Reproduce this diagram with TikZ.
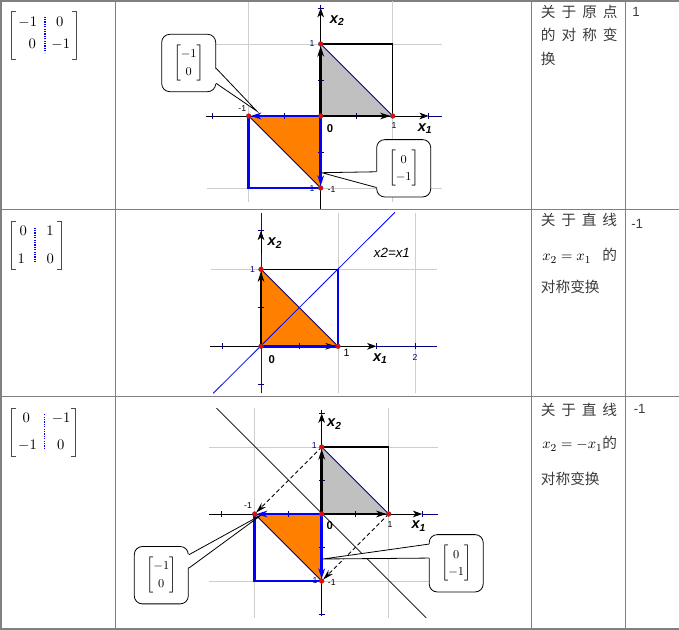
\documentclass[tikz,border=0pt]{standalone}
\usepackage{amsmath}
\usepackage{fontspec}
\setsansfont{Liberation Sans}
\newfontfamily\cjk{Noto Sans CJK SC}
\usetikzlibrary{arrows.meta,calc}
\definecolor{geoorange}{RGB}{255,128,0}
\definecolor{geogray}{RGB}{192,192,192}
\definecolor{gridgray}{RGB}{206,206,206}
\definecolor{axnavy}{RGB}{0,0,128}
\definecolor{tabgray}{RGB}{128,128,128}
\definecolor{txtgray}{RGB}{60,60,60}
\tikzstyle{tabline} = [draw=tabgray, line width=1.1pt]
\tikzstyle{gridln} = [draw=gridgray, line width=0.7pt]
\tikzstyle{axisln} = [draw=black, line width=0.7pt, -{Stealth[length=7pt,width=5pt,inset=2pt]}]
\tikzstyle{axisend} = [draw=axnavy, line width=0.7pt]
\tikzstyle{tickln} = [draw=axnavy, line width=0.6pt]
\tikzstyle{vecblack} = [draw=black, line width=2pt, -{Stealth[length=8pt,width=5pt]}, shorten >=1.5pt]
\tikzstyle{vecblue} = [draw=blue, line width=2pt, -{Stealth[length=8pt,width=5pt]}, shorten >=1.5pt]
\tikzstyle{edgeblue} = [draw=blue, line width=2pt]
\tikzstyle{edgeblack} = [draw=black, line width=0.9pt]
\tikzstyle{hypot} = [draw=axnavy, line width=0.6pt]
\tikzstyle{mirror} = [line width=0.6pt]
\tikzstyle{imgarrow} = [draw=black, line width=0.6pt, dash pattern=on 3pt off 2pt, -{Stealth[length=8pt,width=4.5pt]}, shorten >=1.5pt]
\tikzstyle{reddot} = [circle, fill=red, draw=black!70, line width=0.3pt, inner sep=0pt, minimum size=3.6pt]
\tikzstyle{ticklab} = [font=\fontsize{6.5}{7}\sffamily, inner sep=0pt]
\tikzstyle{axlab} = [font=\fontsize{11}{13}\sffamily\bfseries\itshape, inner sep=0pt]
\tikzstyle{zerolab} = [font=\fontsize{8.5}{10}\sffamily\bfseries, inner sep=0pt]
\tikzstyle{linelab} = [font=\fontsize{10}{12}\sffamily\itshape, inner sep=0pt]
\tikzstyle{callbox} = [rectangle, rounded corners=6pt, draw=black, line width=0.6pt, fill=white, minimum width=40.5pt, minimum height=43pt, inner sep=0pt, font=\small]
\tikzstyle{pointer} = [draw=black, line width=0.6pt]
\tikzstyle{matent} = [font=\fontsize{11}{13}\selectfont, inner sep=0pt, anchor=base]
\tikzstyle{matbrk} = [draw=black!70, line width=0.7pt]
\tikzstyle{sepdot} = [draw=blue, line width=1.2pt, dash pattern=on 0.9pt off 0.9pt]
\tikzstyle{cntext} = [font=\fontsize{11}{13}\cjk, text=txtgray, inner sep=0pt, anchor=base west]
\tikzstyle{valtext} = [font=\fontsize{10}{12}\sffamily, text=txtgray, inner sep=0pt, anchor=base west]

\begin{document}
\begin{tikzpicture}[x=0.75pt, y=-0.75pt]
\useasboundingbox (0,0) rectangle (679,630);

% table rules
\draw[tabline] (0,0.8) -- (679,0.8);
\draw[tabline] (0,209.5) -- (679,209.5);
\draw[tabline] (0,396.5) -- (679,396.5);
\draw[tabline] (0,628.8) -- (679,628.8);
\draw[tabline] (1,0) -- (1,630);
\draw[tabline] (115.7,0) -- (115.7,630);
\draw[tabline] (531.7,0) -- (531.7,630);
\draw[tabline] (625.5,0) -- (625.5,630);

% column 1: the matrices
\draw[matbrk] (16.2,11.7) -- (11.7,11.7) -- (11.7,59.3) -- (16.2,59.3);
\draw[matbrk] (71.5,11.7) -- (76,11.7) -- (76,59.3) -- (71.5,59.3);
\draw[sepdot] (45,16.7) -- (45,52.7);
\node[matent] (m1a) at (27.8,26.7) {$-1$};
\node[matent] (m1b) at (59.7,26.7) {$0$};
\node[matent] (m1c) at (32.2,48.3) {$0$};
\node[matent] (m1d) at (60.8,48.3) {$-1$};

\draw[matbrk] (16.2,221.7) -- (11.7,221.7) -- (11.7,269) -- (16.2,269);
\draw[matbrk] (57.2,221.7) -- (61.7,221.7) -- (61.7,269) -- (57.2,269);
\draw[sepdot] (35,227.7) -- (35,262.3);
\node[matent] (m2a) at (23.3,235.7) {$0$};
\node[matent] (m2b) at (50,235.7) {$1$};
\node[matent] (m2c) at (21.2,263.3) {$1$};
\node[matent] (m2d) at (50.3,263.3) {$0$};

\draw[matbrk] (16.2,408.3) -- (11.7,408.3) -- (11.7,456) -- (16.2,456);
\draw[matbrk] (71.2,408.3) -- (75.7,408.3) -- (75.7,456) -- (71.2,456);
\draw[sepdot] (44.3,414.3) -- (44.3,448.3);
\node[matent] (m3a) at (26.2,422.3) {$0$};
\node[matent] (m3b) at (61.2,422.3) {$-1$};
\node[matent] (m3c) at (27.5,450) {$-1$};
\node[matent] (m3d) at (60.8,450) {$0$};

% row 1: reflection in the origin
\begin{scope}[shift={(320.7,116)}, x=54pt, y=54pt]
  \coordinate (a0) at (0,0);
  \coordinate (ax) at (1,0);
  \coordinate (ay) at (0,1);
  \coordinate (axy) at (1,1);
  \coordinate (amx) at (-1,0);
  \coordinate (amy) at (0,-1);
  \coordinate (amxy) at (-1,-1);
  \draw[gridln] (-1,-1.2) -- (-1,1.58);
  \draw[gridln] (1,-1.2) -- (1,1.6);
  \draw[gridln] (-1.58,1) -- (1.68,1);
  \draw[gridln] (-1.58,-1) -- (1.68,-1);
  \fill[geogray] (a0) -- (ax) -- (ay) -- cycle;
  \fill[geoorange] (a0) -- (amx) -- (amy) -- cycle;
  \draw[axisln] (-1.6,0) -- (1.5,0);
  \draw[axisend] (1.5,0) -- (1.68,0);
  \draw[axisln] (0,-1.29) -- (0,1.5);
  \draw[axisend] (0,1.5) -- (0,1.54);
  \foreach \t in {-1.5,-0.5,0.5,1.5}
    \draw[tickln] (\t,0) ++(0pt,-2.2pt) -- ++(0pt,4.4pt);
  \foreach \t in {-0.5,0.5,1.5}
    \draw[tickln] (0,\t) ++(-2.2pt,0pt) -- ++(4.4pt,0pt);
  \draw[edgeblack] (ay) -- (axy) -- (ax);
  \draw[hypot] (ax) -- (ay);
  \draw[hypot] (amx) -- (amy);
  \node[ticklab, text=axnavy] (a1l) at (-0.12,-1.01) {1};
  \draw[edgeblue] (amx) -- (amxy) -- (amy);
  \draw[vecblack] (a0) -- (ax);
  \draw[vecblack] (a0) -- (ay);
  \draw[vecblue] (a0) -- (amx);
  \draw[vecblue] (a0) -- (amy);
  \foreach \p/\n in {a0/ad0,ax/adx,ay/ady,amx/admx,amy/admy}
    \node[reddot] (\n) at (\p) {};
  \node[axlab] (ax2) at (0.23,1.33) {x\textsubscript{2}};
  \node[axlab] (ax1) at (1.45,-0.18) {x\textsubscript{1}};
  \node[zerolab] (azero) at (0.13,-0.17) {0};
  \node[ticklab, text=axnavy] (ay1) at (-0.12,1.01) {1};
  \node[ticklab] (amx1) at (-1.09,0.11) {-1};
  \node[ticklab] (ax1l) at (1.02,-0.13) {1};
  \node[ticklab] (amy1) at (0.15,-1.02) {-1};
\end{scope}

\node[callbox] (cbA) at (188.7,63) {\renewcommand{\arraystretch}{1.2}$\begin{bmatrix}-1\\0\end{bmatrix}$};
\coordinate (tipA) at (256.7,111);
\fill[white] ($(cbA.north east)!0.59!(cbA.south east)+(-1.5,0)$) -- (tipA) -- ($(cbA.north east)!0.85!(cbA.south east)+(-1.5,0)$) -- cycle;
\draw[pointer] ($(cbA.north east)!0.59!(cbA.south east)$) -- (tipA) -- ($(cbA.north east)!0.85!(cbA.south east)$);

\node[callbox] (cbB) at (403.7,168.3) {\renewcommand{\arraystretch}{1.2}$\begin{bmatrix}0\\-1\end{bmatrix}$};
\coordinate (tipB) at (321.7,172.7);
\fill[white] ($(cbB.north west)!0.56!(cbB.south west)+(1.5,0)$) -- (tipB) -- ($(cbB.north west)!0.83!(cbB.south west)+(1.5,0)$) -- cycle;
\draw[pointer] ($(cbB.north west)!0.56!(cbB.south west)$) -- (tipB) -- ($(cbB.north west)!0.83!(cbB.south west)$);

% row 2: reflection in x2 = x1
\begin{scope}[shift={(261,346.3)}, x=57.75pt, y=57.75pt]
  \coordinate (b0) at (0,0);
  \coordinate (bx) at (1,0);
  \coordinate (by) at (0,1);
  \coordinate (bxy) at (1,1);
  \draw[gridln] (-0.65,1) -- (2.28,1);
  \draw[gridln] (1,-0.61) -- (1,1.73);
  \draw[gridln] (2,-0.61) -- (2,1.73);
  \fill[geoorange] (b0) -- (bx) -- (by) -- cycle;
  \draw[mirror, blue] (-0.62,-0.61) -- (1.74,1.74);
  \draw[axisln] (-0.66,0) -- (1.5,0);
  \draw[axisend] (1.5,0) -- (2.28,0);
  \draw[draw=blue, line width=0.7pt] (0,-0.61) -- (0,1.73);
  \foreach \t in {-0.5,0.5,1.5,2}
    \draw[tickln] (\t,0) ++(0pt,-2.2pt) -- ++(0pt,4.4pt);
  \foreach \t in {-0.5,0.5,1.5}
    \draw[tickln] (0,\t) ++(-2.2pt,0pt) -- ++(4.4pt,0pt);
  \draw[axisln] (0,1.2) -- (0,1.5);
  \draw[edgeblack] (by) -- (bxy);
  \draw[hypot] (bx) -- (by);
  \draw[vecblack] (b0) -- (bx);
  \draw[vecblack] (b0) -- (by);
  \draw[edgeblue] (b0) -- (bx) -- (bxy);
  \foreach \p/\n in {b0/bd0,bx/bdx,by/bdy}
    \node[reddot] (\n) at (\p) {};
  \node[axlab] (bx2) at (0.18,1.34) {x\textsubscript{2}};
  \node[axlab] (bx1) at (1.55,-0.16) {x\textsubscript{1}};
  \node[zerolab] (bzero) at (0.14,-0.17) {0};
  \node[ticklab, text=axnavy] (by1) at (-0.11,1.0) {1};
  \node[ticklab, font=\fontsize{8}{9}\sffamily] (bx1l) at (1.11,-0.09) {1};
  \node[ticklab, text=axnavy] (bx2l) at (2.0,-0.15) {2};
  \node[linelab] (bline) at (1.7,1.22) {x2=x1};
\end{scope}

% row 3: reflection in x2 = -x1
\begin{scope}[shift={(321.7,514)}, x=50.25pt, y=50.25pt]
  \coordinate (c0) at (0,0);
  \coordinate (cx) at (1,0);
  \coordinate (cy) at (0,1);
  \coordinate (cxy) at (1,1);
  \coordinate (cmx) at (-1,0);
  \coordinate (cmy) at (0,-1);
  \coordinate (cmxy) at (-1,-1);
  \draw[gridln] (-1,-1.55) -- (-1,1.58);
  \draw[gridln] (1,-1.55) -- (1,1.58);
  \draw[gridln] (-1.68,1) -- (1.73,1);
  \draw[gridln] (-1.68,-1) -- (1.73,-1);
  \fill[geogray] (c0) -- (cx) -- (cy) -- cycle;
  \fill[geoorange] (c0) -- (cmx) -- (cmy) -- cycle;
  \draw[mirror] (-1.57,1.58) -- (1.56,-1.55);
  \draw[axisln] (-1.68,0) -- (1.5,0);
  \draw[axisend] (1.5,0) -- (1.73,0);
  \draw[axisln] (0,-1.52) -- (0,1.5);
  \draw[axisend] (0,1.5) -- (0,1.55);
  \foreach \t in {-1.5,-0.5,0.5,1.5}
    \draw[tickln] (\t,0) ++(0pt,-2.2pt) -- ++(0pt,4.4pt);
  \foreach \t in {-1.5,-0.5,0.5,1.5}
    \draw[tickln] (0,\t) ++(-2.2pt,0pt) -- ++(4.4pt,0pt);
  \draw[edgeblack] (cy) -- (cxy) -- (cx);
  \draw[hypot] (cx) -- (cy);
  \draw[hypot] (cmx) -- (cmy);
  \node[ticklab, text=axnavy] (c1l) at (-0.1,-1.0) {1};
  \draw[edgeblue] (cmx) -- (cmxy) -- (cmy);
  \draw[imgarrow] (cy) -- (cmx);
  \draw[imgarrow] (cx) -- (cmy);
  \draw[vecblack] (c0) -- (cx);
  \draw[vecblack] (c0) -- (cy);
  \draw[vecblue] (c0) -- (cmx);
  \draw[vecblue] (c0) -- (cmy);
  \foreach \p/\n in {c0/cd0,cx/cdx,cy/cdy,cmx/cdmx,cmy/cdmy}
    \node[reddot] (\n) at (\p) {};
  \node[axlab] (cx2) at (0.19,1.34) {x\textsubscript{2}};
  \node[axlab] (cx1) at (1.45,-0.18) {x\textsubscript{1}};
  \node[zerolab] (czero) at (0.12,-0.17) {0};
  \node[ticklab, text=axnavy] (cy1) at (-0.11,1.02) {1};
  \node[ticklab] (cmx1) at (-1.1,0.12) {-1};
  \node[ticklab] (cx1l) at (1.02,-0.15) {1};
  \node[ticklab] (cmy1) at (0.15,-1.03) {-1};
\end{scope}

\node[callbox] (cbC) at (161.3,575.2) {\renewcommand{\arraystretch}{1.2}$\begin{bmatrix}-1\\0\end{bmatrix}$};
\coordinate (tipC) at (262,514.5);
\fill[white] ($(cbC.north east)!0.15!(cbC.south east)+(-1.5,0)$) -- (tipC) -- ($(cbC.north east)!0.38!(cbC.south east)+(-1.5,0)$) -- cycle;
\draw[pointer] ($(cbC.north east)!0.15!(cbC.south east)$) -- (tipC) -- ($(cbC.north east)!0.38!(cbC.south east)$);

\node[callbox] (cbD) at (456.2,563.3) {\renewcommand{\arraystretch}{1.2}$\begin{bmatrix}0\\-1\end{bmatrix}$};
\coordinate (tipD) at (323,559);
\fill[white] ($(cbD.north west)!0.17!(cbD.south west)+(1.5,0)$) -- (tipD) -- ($(cbD.north west)!0.41!(cbD.south west)+(1.5,0)$) -- cycle;
\draw[pointer] ($(cbD.north west)!0.17!(cbD.south west)$) -- (tipD) -- ($(cbD.north west)!0.41!(cbD.south west)$);

% column 3: names of the maps
\node[cntext] (t1a) at (540.7,18) {\makebox[57.5pt][s]{关\hfill 于\hfill 原\hfill 点}};
\node[cntext] (t1b) at (540.7,41) {\makebox[57.5pt][s]{的\hfill 对\hfill 称\hfill 变}};
\node[cntext] (t1c) at (540.7,65) {换};
\node[cntext] (t2a) at (540.7,226) {\makebox[57pt][s]{关\hfill 于\hfill 直\hfill 线}};
\node[cntext] (t2b) at (542,261) {\makebox[56pt][s]{{\color{black}$x_2=x_1$}\hfill 的}};
\node[cntext] (t2c) at (540.7,293) {对称变换};
\node[cntext] (t3a) at (540.7,415.5) {\makebox[57pt][s]{关\hfill 于\hfill 直\hfill 线}};
\node[cntext] (t3b) at (542,449) {\makebox[56pt][s]{{\color{black}$x_2=-x_1$}\hfill 的}};
\node[cntext] (t3c) at (540.7,484.5) {对称变换};

% column 4: determinants
\node[valtext] (v1) at (632,16.7) {1};
\node[valtext] (v2) at (631,228.3) {-1};
\node[valtext] (v3) at (633.5,414) {-1};
\end{tikzpicture}
\end{document}
